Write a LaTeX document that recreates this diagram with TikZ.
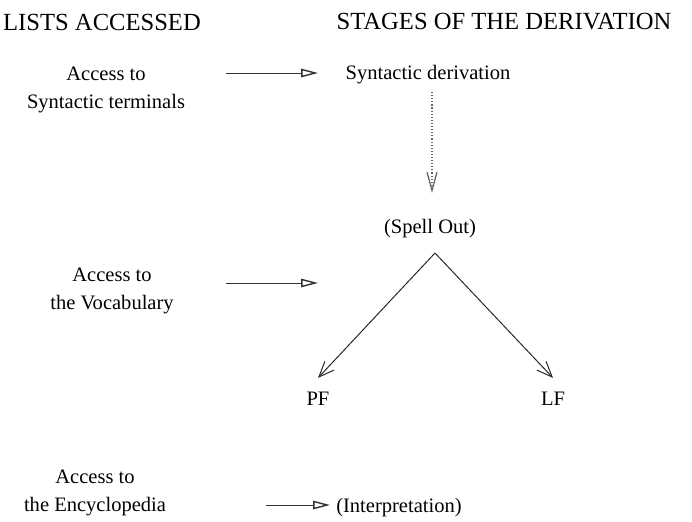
\documentclass[tikz,border=0pt]{standalone}
\usepackage{fontspec}
\setmainfont{Liberation Serif}
\usepackage{tikz}
\usetikzlibrary{arrows.meta}
\tikzset{
  head/.style={font=\fontsize{17.5}{20}\selectfont, inner sep=0pt},
  txt/.style={font=\fontsize{14.6}{20}\selectfont, inner sep=0pt, align=center},
  lst/.style={draw=black!80, line width=0.7pt, -{Triangle[open, length=12pt, width=6pt, line width=1pt]}},
  dots/.style={draw=black!60, line width=0.8pt, dash pattern=on 0.8pt off 1.4pt, -{Straight Barb[length=13pt, width=7pt, line width=0.9pt]}},
  branch/.style={draw=black!85, line width=0.7pt, -{Straight Barb[length=11pt, width=9pt, line width=0.7pt]}},
}
\begin{document}
\begin{tikzpicture}[x=0.025cm, y=-0.025cm]
  \useasboundingbox (0,0) rectangle (692,521);
  % column headings
  \node[head] (lists) at (102,22) {LISTS ACCESSED};
  \node[head] (stages) at (504,22) {STAGES OF THE DERIVATION};
  % lists accessed
  \node[txt] (term) at (106,90) {Access to\\Syntactic terminals};
  \node[txt] (voc) at (112,291) {Access to\\the Vocabulary};
  \node[txt] (enc) at (95,493) {Access to\\the Encyclopedia};
  % stages
  \node[txt] (syn) at (428,75) {Syntactic derivation};
  \node[txt] (spell) at (430,229) {(Spell Out)};
  \node[txt] (pf) at (318,399) {PF};
  \node[txt] (lf) at (553,399) {LF};
  \node[txt, anchor=west] (interp) at (336,508) {(Interpretation)};
  % arrow ends
  \coordinate (t1) at (226,73);
  \coordinate (h1) at (318,73);
  \coordinate (t2) at (226,283);
  \coordinate (h2) at (318,283);
  \coordinate (t3) at (266,505);
  \coordinate (h3) at (330,505);
  \coordinate (d1) at (432,92);
  \coordinate (d2) at (432,193);
  \coordinate (top) at (435,253);
  \draw[lst] (t1) -- (h1);
  \draw[lst] (t2) -- (h2);
  \draw[lst] (t3) -- (h3);
  \draw[dots] (d1) -- (d2);
  \draw[branch] (top) -- ([yshift=10pt]pf.north);
  \draw[branch] (top) -- ([yshift=10pt]lf.north);
\end{tikzpicture}
\end{document}
